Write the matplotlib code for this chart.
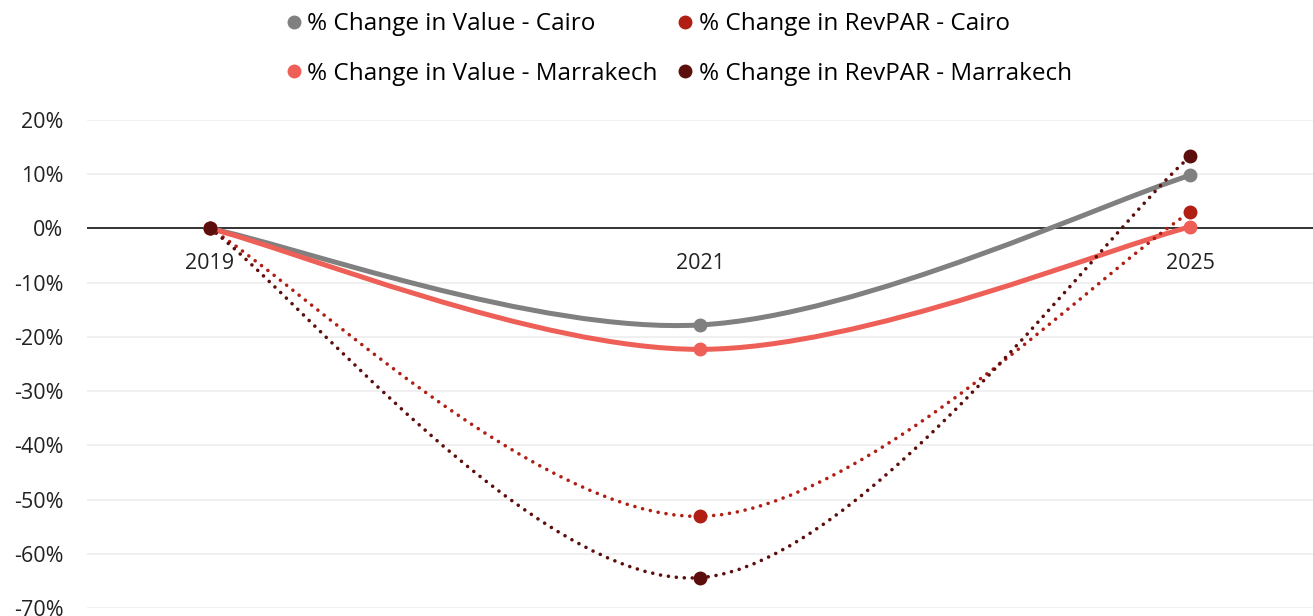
import matplotlib.pyplot as plt
import numpy as np
from matplotlib.lines import Line2D
from matplotlib.patches import PathPatch
from matplotlib.path import Path

plt.rcParams["font.family"] = ["Open Sans", "DejaVu Sans"]

years = ["2019", "2021", "2025"]
value_cairo = [0.0, -17.8, 9.8]
value_marrakech = [0.0, -22.3, 0.3]
revpar_cairo = [0.0, -53.1, 3.0]
revpar_marrakech = [0.0, -64.4, 13.3]

y_ticks = [20, 10, 0, -10, -20, -30, -40, -50, -60, -70]


def smooth_path(xs, ys):
    # Catmull-Rom style bezier through the data points
    pts = np.column_stack([xs, ys]).astype(float)
    ext = np.vstack([pts[0], pts, pts[-1]])
    verts = [pts[0]]
    codes = [Path.MOVETO]
    for i in range(len(pts) - 1):
        p0, p1, p2, p3 = ext[i], ext[i + 1], ext[i + 2], ext[i + 3]
        verts += [p1 + (p2 - p0) / 6, p2 - (p3 - p1) / 6, p2]
        codes += [Path.CURVE4] * 3
    return Path(verts, codes)


series = [
    ("% Change in Value - Cairo", value_cairo, "#808080", "solid"),
    ("% Change in Value - Marrakech", value_marrakech, "#EE5F57", "solid"),
    ("% Change in RevPAR - Cairo", revpar_cairo, "#B01E14", "dotted"),
    ("% Change in RevPAR - Marrakech", revpar_marrakech, "#5C0E0C", "dotted"),
]

fig = plt.figure(figsize=(13.13, 6.16), dpi=100)
ax = fig.add_axes([87 / 1313, 8 / 616, 1 - 87 / 1313, 488 / 616])

x = np.arange(len(years))
handles = []
for label, vals, color, style in series:
    path = smooth_path(x, vals)
    if style == "solid":
        patch = PathPatch(path, fill=False, edgecolor=color, linewidth=3.6,
                          capstyle="round", zorder=3)
    else:
        patch = PathPatch(path, fill=False, edgecolor=color, linewidth=2.6,
                          linestyle=(0, (0.01, 2.2)), capstyle="round", zorder=3)
    ax.add_patch(patch)
    ax.plot(x, vals, "o", color=color, markersize=9, zorder=4)
    handles.append(Line2D([], [], marker="o", linestyle="none", color=color,
                          markersize=9, label=label))

ax.axhline(0, color="black", linewidth=1.1, zorder=2)
ax.set_xlim(-0.25, 2.25)
ax.set_ylim(-70, 20)
ax.set_yticks(y_ticks)
ax.set_yticklabels([f"{t}%" for t in y_ticks])
ax.grid(axis="y", color="#EFEFEF", linewidth=1.3)
ax.set_axisbelow(True)

ax.set_xticks(x)
ax.set_xticklabels(years)
ax.spines["bottom"].set_position(("data", 0))
for s in ax.spines.values():
    s.set_visible(False)
ax.tick_params(axis="x", length=0, pad=18, labelsize=15.5, labelcolor="#222222")
ax.tick_params(axis="y", length=0, pad=17, labelsize=15.5, labelcolor="#222222")

fig.legend(handles=handles, loc="upper center", bbox_to_anchor=(676 / 1313, 1.016),
           ncol=2, frameon=False, fontsize=17.5, handletextpad=0.0,
           columnspacing=0.6, labelspacing=1.05, handlelength=1.1)

fig.savefig("out.png", dpi=100)
